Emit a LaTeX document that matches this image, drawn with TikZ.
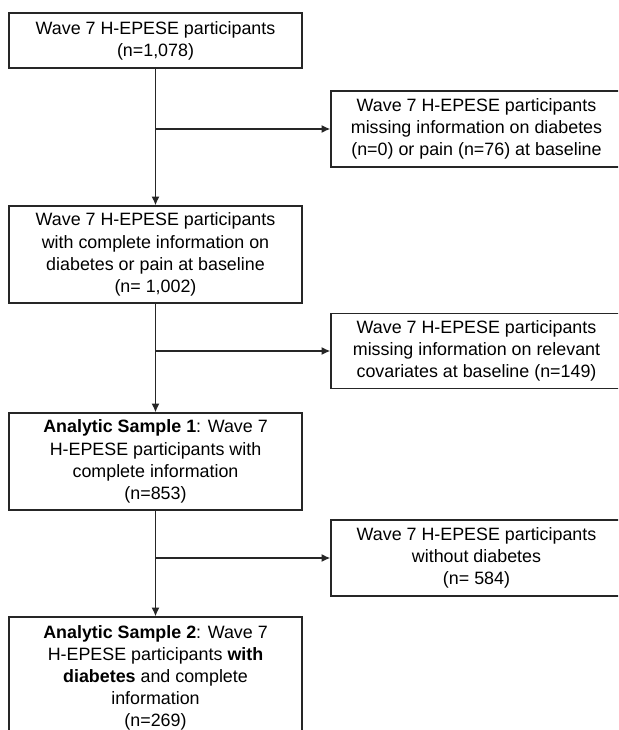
\documentclass[tikz,border=0pt]{standalone}
\usepackage{fontspec}
\setmainfont{Liberation Sans}
\usetikzlibrary{arrows.meta}
\begin{document}
\begin{tikzpicture}[x=0.75pt,y=-0.75pt,
  box/.style={draw=black!85,line width=1.1pt,align=center,inner sep=0pt,
    font=\fontsize{13.4}{16.6}\selectfont},
  conn/.style={draw=black!85,line width=1pt},
  arr/.style={conn,-{Latex[length=6.5pt,width=6pt]}}]
\useasboundingbox (0,0) rectangle (618,730);
\clip (0,0) rectangle (618,730);
\node[box,minimum width=293*0.75pt,minimum height=55*0.75pt] (b1) at (155.5,40.5)
  {Wave 7 H-EPESE participants\\(n=1,078)};
\node[box,minimum width=291*0.75pt,minimum height=76*0.75pt] (r1) at (476.5,129)
  {Wave 7 H-EPESE participants\\missing information on diabetes\\(n=0) or pain (n=76) at baseline};
\node[box,minimum width=293*0.75pt,minimum height=97*0.75pt] (b2) at (155.5,254.5)
  {Wave 7 H-EPESE participants\\with complete information on\\diabetes or pain at baseline\\(n= 1,002)};
\node[box,minimum width=291*0.75pt,minimum height=75*0.75pt] (r2) at (476.5,351)
  {Wave 7 H-EPESE participants\\missing information on relevant\\covariates at baseline (n=149)};
\node[box,minimum width=293*0.75pt,minimum height=97*0.75pt] (b3) at (155.5,461.5)
  {\textbf{Analytic Sample 1}: Wave 7\\H-EPESE participants with\\complete information\\(n=853)};
\node[box,minimum width=291*0.75pt,minimum height=76*0.75pt] (r3) at (476.5,558)
  {Wave 7 H-EPESE participants\\without diabetes\\(n= 584)};
\node[box,minimum width=293*0.75pt,minimum height=122*0.75pt] (b4) at (155.5,678)
  {\textbf{Analytic Sample 2}: Wave 7\\H-EPESE participants \textbf{with}\\\textbf{diabetes} and complete\\information\\(n=269)};
\coordinate (j1) at (b1.south |- r1.west);
\coordinate (j2) at (b2.south |- r2.west);
\coordinate (j3) at (b3.south |- r3.west);
\draw[arr] (b1.south) -- (b2.north);
\draw[arr] (j1) -- (r1.west);
\draw[arr] (b2.south) -- (b3.north);
\draw[arr] (j2) -- (r2.west);
\draw[arr] (b3.south) -- (b4.north);
\draw[arr] (j3) -- (r3.west);
\end{tikzpicture}
\end{document}
